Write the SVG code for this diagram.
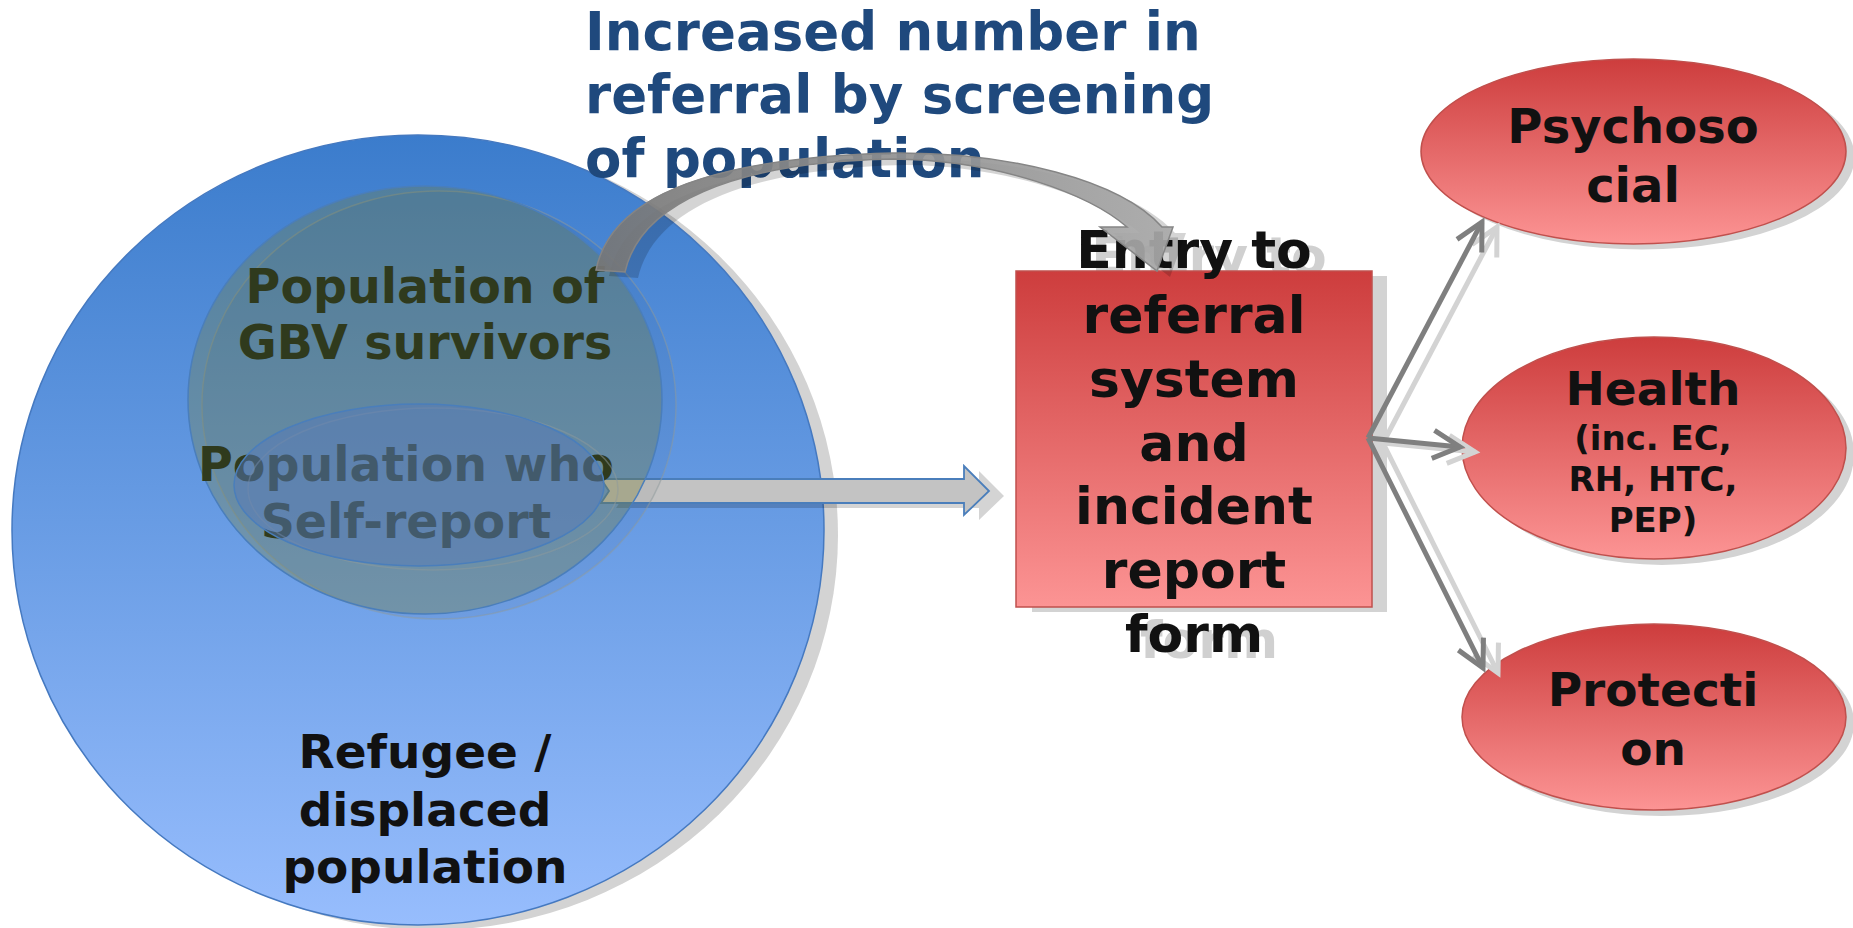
<svg xmlns="http://www.w3.org/2000/svg" width="1853" height="928" viewBox="0 0 1853 928">
<defs>
<style>
text{font-family:"DejaVu Sans","Liberation Sans",sans-serif;font-weight:bold;text-anchor:middle}
.dark{fill:#111111}
.olive{fill:#2f3a1d}
.title{fill:#1f497d;text-anchor:start;font-size:53px}
.sh{fill:#000000;fill-opacity:0.17}
.redshape{fill:url(#redGrad);stroke:#c0504d;stroke-width:1.5}
.conn{fill:none;stroke:#7f7f7f;stroke-width:5}
.connsh{fill:none;stroke:#d3d3d3;stroke-width:5}
</style>
<linearGradient id="blueGrad" x1="0" y1="0" x2="0" y2="1">
<stop offset="0" stop-color="#3b7ccc"/>
<stop offset="1" stop-color="#97bdfd"/>
</linearGradient>
<linearGradient id="redGrad" x1="0" y1="0" x2="0" y2="1">
<stop offset="0" stop-color="#cd3d3d"/>
<stop offset="1" stop-color="#fc9494"/>
</linearGradient>
<linearGradient id="curveGrad" gradientUnits="userSpaceOnUse" x1="596" y1="0" x2="1173" y2="0">
<stop offset="0" stop-color="#767676"/>
<stop offset="1" stop-color="#aaaaaa"/>
</linearGradient>
<marker id="chev" markerUnits="userSpaceOnUse" markerWidth="60" markerHeight="60" viewBox="-40 -30 60 60" refX="0" refY="0" orient="auto" overflow="visible">
<path d="M-27,-14 L0,0 L-27,14" fill="none" stroke="#7f7f7f" stroke-width="5"/>
</marker>
<marker id="chevsh" markerUnits="userSpaceOnUse" markerWidth="60" markerHeight="60" viewBox="-40 -30 60 60" refX="0" refY="0" orient="auto" overflow="visible">
<path d="M-27,-14 L0,0 L-27,14" fill="none" stroke="#d3d3d3" stroke-width="5"/>
</marker>
<path id="curveArrow" d="M596,270 C610,200 700,158 893,153 C1010,152 1120,180 1162,227 L1173,227 L1157,271 L1100,227 L1127,227 C1090,195 1000,160 893,159 C730,162 640,205 625,272 Z"/>
<path id="blockArrow" d="M601,479 L964,479 L964,466 L989,491 L964,515 L964,503 L601,503 L609,491 Z"/>
</defs>
<rect width="1853" height="928" fill="#ffffff"/>

<g id="refugee-population">
<ellipse cx="432" cy="535" rx="406" ry="395" fill="#d3d3d3"/>
<ellipse cx="418" cy="530" rx="406" ry="395" fill="url(#blueGrad)" stroke="#4579c0" stroke-width="1.5"/>
<text class="dark" font-size="47" x="425" y="768">Refugee /</text>
<text class="dark" font-size="47" x="425" y="826">displaced</text>
<text class="dark" font-size="47" x="425" y="883">population</text>
</g>

<g id="title">
<text class="title" x="585" y="50">Increased number in</text>
<text class="title" x="585" y="113">referral by screening</text>
<text class="title" x="585" y="177">of population</text>
</g>

<g id="self-report-arrow">
<use href="#blockArrow" class="sh" transform="translate(15,5)"/>
<use href="#blockArrow" fill="#c3c3c3" stroke="#4a7ebb" stroke-width="1.8"/>
</g>

<g id="gbv-survivors">
<ellipse cx="439" cy="405" rx="237" ry="214" fill="#000000" fill-opacity="0.04" stroke="#8d9a9c" stroke-opacity="0.5" stroke-width="1.5"/>
<ellipse cx="425" cy="400" rx="237" ry="214" fill="#7a7f2a" fill-opacity="0.3" stroke="#4a7ebb" stroke-width="1.5"/>
<text class="olive" font-size="47.5" x="425" y="303">Population of</text>
<text class="olive" font-size="47.5" x="425" y="359">GBV survivors</text>
</g>

<g id="self-report">
<text class="olive" font-size="47.5" x="406" y="481">Population who</text>
<text class="olive" font-size="47.5" x="406" y="538">Self-report</text>
<ellipse cx="433" cy="489" rx="185" ry="81" fill="none" stroke="#8d9a9c" stroke-opacity="0.5" stroke-width="1.5"/>
<ellipse cx="419" cy="485" rx="185" ry="81" fill="#567aba" fill-opacity="0.5" stroke="#4a7ebb" stroke-width="1.5"/>
</g>

<g id="entry-box">
<rect x="1032" y="276" width="355" height="336" fill="#d3d3d3"/>
<g fill="#d0d0d0" font-size="52">
<text x="1209" y="274">Entry to</text>
<text x="1209" y="339">referral</text>
<text x="1209" y="403">system</text>
<text x="1209" y="467">and</text>
<text x="1209" y="530">incident</text>
<text x="1209" y="594">report</text>
<text x="1209" y="658">form</text>
</g>
<rect x="1016" y="271" width="356" height="336" class="redshape"/>
<g class="dark" font-size="52">
<text x="1194" y="268">Entry to</text>
<text x="1194" y="333">referral</text>
<text x="1194" y="397">system</text>
<text x="1194" y="461">and</text>
<text x="1194" y="524">incident</text>
<text x="1194" y="588">report</text>
<text x="1194" y="652">form</text>
</g>
</g>

<g id="psychosocial">
<ellipse cx="1642" cy="157" rx="212.5" ry="92.5" fill="#d3d3d3"/>
<ellipse cx="1633.5" cy="151.5" rx="212.5" ry="92.5" class="redshape"/>
<text class="dark" font-size="48" x="1633" y="143">Psychoso</text>
<text class="dark" font-size="48" x="1633" y="202">cial</text>
</g>

<g id="health">
<ellipse cx="1662" cy="454" rx="192" ry="111" fill="#d3d3d3"/>
<ellipse cx="1654" cy="448" rx="192" ry="111" class="redshape"/>
<text class="dark" font-size="47" x="1653" y="405">Health</text>
<text class="dark" font-size="34" x="1653" y="450">(inc. EC,</text>
<text class="dark" font-size="34" x="1653" y="491">RH, HTC,</text>
<text class="dark" font-size="34" x="1653" y="532">PEP)</text>
</g>

<g id="protection">
<ellipse cx="1662" cy="723" rx="192" ry="93" fill="#d3d3d3"/>
<ellipse cx="1654" cy="717" rx="192" ry="93" class="redshape"/>
<text class="dark" font-size="47" x="1653" y="706">Protecti</text>
<text class="dark" font-size="47" x="1653" y="765">on</text>
</g>

<g id="connectors">
<line class="connsh" x1="1383" y1="443" x2="1497" y2="227" marker-end="url(#chevsh)"/>
<line class="connsh" x1="1383" y1="443" x2="1475" y2="452" marker-end="url(#chevsh)"/>
<line class="connsh" x1="1383" y1="443" x2="1498" y2="673" marker-end="url(#chevsh)"/>
<line class="conn" x1="1368" y1="438" x2="1482" y2="222" marker-end="url(#chev)"/>
<line class="conn" x1="1368" y1="438" x2="1460" y2="447" marker-end="url(#chev)"/>
<line class="conn" x1="1368" y1="438" x2="1483" y2="668" marker-end="url(#chev)"/>
</g>

<g id="curved-connector">
<use href="#curveArrow" class="sh" transform="translate(13,6)"/>
<use href="#curveArrow" fill="url(#curveGrad)" fill-opacity="0.92" stroke="#858585" stroke-width="1.5"/>
</g>
</svg>
